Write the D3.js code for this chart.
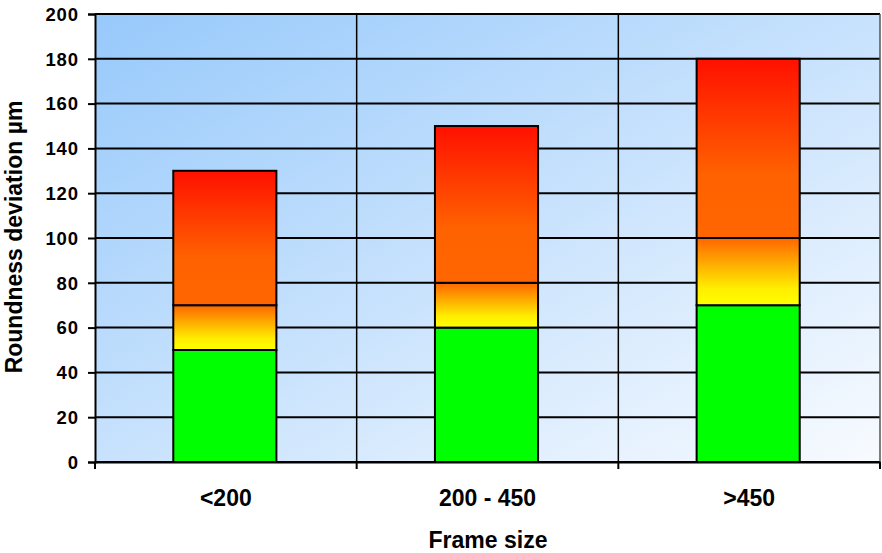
<!DOCTYPE html>
<html><head><meta charset="utf-8">
<script src="https://cdn.jsdelivr.net/npm/d3@7/dist/d3.min.js"></script>
<style>body{margin:0;background:#fff}svg{display:block}</style>
</head><body>
<script>
const categories = ["<200", "200 - 450", ">450"];
const greenVals = [50, 60, 70];
const yellowVals = [20, 20, 30];
const redVals = [60, 70, 80];
const yTicks = [0, 20, 40, 60, 80, 100, 120, 140, 160, 180, 200];

const W = 882, H = 553;
const m = {l: 95, r: 2, t: 14, b: 91};
const FF = "Liberation Sans, Arial, sans-serif";
const svg = d3.select("body").append("svg").attr("width", W).attr("height", H)
  .style("font-family", FF);

const defs = svg.append("defs");
const bg = defs.append("linearGradient").attr("id", "bg").attr("x1", "0").attr("y1", "0").attr("x2", "1").attr("y2", "1");
bg.append("stop").attr("offset", "0").attr("stop-color", "#97c9fb");
bg.append("stop").attr("offset", "1").attr("stop-color", "#f8fbff");
const gr = defs.append("linearGradient").attr("id", "gRed").attr("x1", 0).attr("y1", 0).attr("x2", 0).attr("y2", 1);
gr.append("stop").attr("offset", "0").attr("stop-color", "#ff1000");
gr.append("stop").attr("offset", "0.65").attr("stop-color", "#ff6200");
gr.append("stop").attr("offset", "1").attr("stop-color", "#ff6600");
const gy = defs.append("linearGradient").attr("id", "gYel").attr("x1", 0).attr("y1", 0).attr("x2", 0).attr("y2", 1);
gy.append("stop").attr("offset", "0").attr("stop-color", "#ff6600");
gy.append("stop").attr("offset", "0.75").attr("stop-color", "#ffee00");
gy.append("stop").attr("offset", "1").attr("stop-color", "#ffff00");

const x = d3.scaleBand().domain(categories).range([m.l, W - m.r]).paddingInner(0).paddingOuter(0);
const y = d3.scaleLinear().domain([0, 200]).range([H - m.b, m.t]);

svg.append("rect").attr("x", m.l).attr("y", m.t).attr("width", W - m.r - m.l).attr("height", H - m.b - m.t)
  .attr("fill", "url(#bg)");

// horizontal gridlines
svg.append("g").selectAll("line").data(yTicks).join("line")
  .attr("x1", m.l).attr("x2", W - m.r).attr("y1", d => y(d)).attr("y2", d => y(d))
  .attr("stroke", "#000").attr("stroke-width", 2);
// vertical category gridlines
svg.append("g").selectAll("line").data(categories.slice(1)).join("line")
  .attr("x1", d => x(d)).attr("x2", d => x(d)).attr("y1", m.t).attr("y2", H - m.b)
  .attr("stroke", "#000").attr("stroke-width", 1.5);
svg.append("line").attr("x1", W - m.r).attr("x2", W - m.r).attr("y1", m.t).attr("y2", H - m.b)
  .attr("stroke", "#555").attr("stroke-width", 1.5);

// bars
const bw = x.bandwidth() * 0.394;
const segs = [];
categories.forEach((c, i) => {
  const g0 = greenVals[i], y0 = g0 + yellowVals[i], r0 = y0 + redVals[i];
  segs.push({c, lo: 0, hi: g0, fill: "#00ff00"});
  segs.push({c, lo: g0, hi: y0, fill: "url(#gYel)"});
  segs.push({c, lo: y0, hi: r0, fill: "url(#gRed)"});
});
svg.append("g").selectAll("rect").data(segs).join("rect")
  .attr("x", d => x(d.c) + x.bandwidth() / 2 - bw / 2 - 1)
  .attr("width", bw)
  .attr("y", d => y(d.hi))
  .attr("height", d => y(d.lo) - y(d.hi))
  .attr("fill", d => d.fill)
  .attr("stroke", "#000").attr("stroke-width", 2);

// y axis
const ya = svg.append("g").attr("transform", `translate(${m.l},0)`)
  .call(d3.axisLeft(y).tickValues(yTicks).tickSize(7).tickPadding(9));
ya.select(".domain").attr("stroke", "#000").attr("stroke-width", 2);
ya.selectAll(".tick line").attr("stroke", "#000").attr("stroke-width", 2);
ya.selectAll("text").style("font-size", "18.5px").style("font-weight", "bold").attr("fill", "#000")
  .style("letter-spacing", "0.9px").style("font-family", FF).attr("dy", "0.34em");

// x axis
const xa = svg.append("g").attr("transform", `translate(0,${H - m.b})`)
  .call(d3.axisBottom(x).tickSize(0).tickPadding(0));
xa.select(".domain").attr("stroke", "#000").attr("stroke-width", 2);
xa.selectAll("text").style("font-size", "23px").style("font-weight", "bold").attr("fill", "#000")
  .style("font-family", FF).attr("y", 44).attr("dy", 0);
const bounds = [m.l].concat(categories.slice(1).map(c => x(c)), [W - m.r]);
svg.append("g").selectAll("line").data(bounds).join("line")
  .attr("x1", d => d).attr("x2", d => d).attr("y1", H - m.b).attr("y2", H - m.b + 7)
  .attr("stroke", "#000").attr("stroke-width", 2);

svg.append("text").attr("x", 488).attr("y", 548).attr("text-anchor", "middle")
  .style("font-size", "23px").style("font-weight", "bold").text("Frame size");
svg.append("text").attr("transform", `translate(22,${(m.t + H - m.b) / 2 - 1}) rotate(-90)`)
  .attr("text-anchor", "middle").style("font-size", "23px").style("font-weight", "bold").text("Roundness deviation µm");
</script>
</body></html>
